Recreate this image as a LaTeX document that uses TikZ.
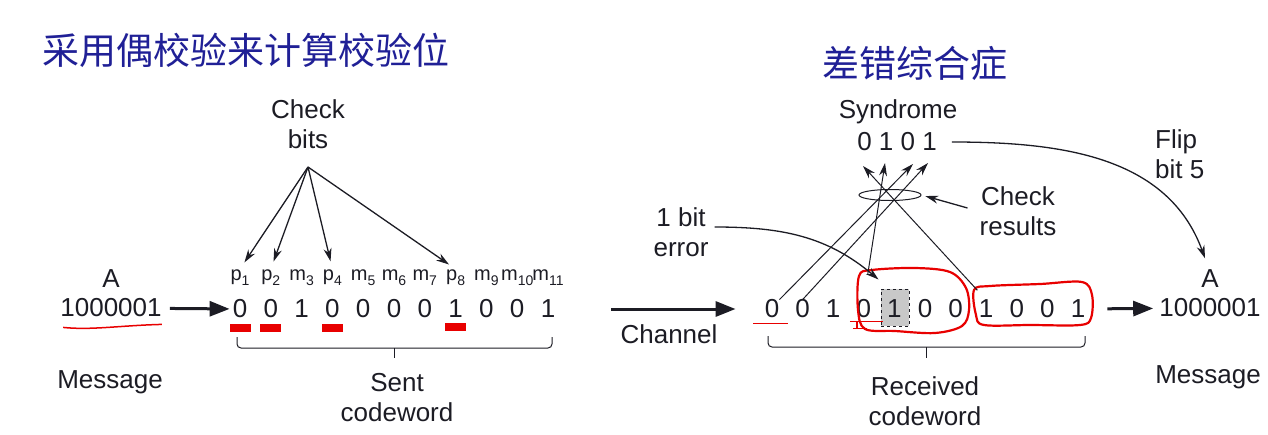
\documentclass[tikz,border=0pt]{standalone}
\usepackage{fontspec}
\setmainfont{Liberation Sans}
\newfontfamily\cjkfont{Noto Sans CJK SC}
\usetikzlibrary{arrows.meta,positioning,shapes.geometric,calc}

\definecolor{titleblue}{RGB}{32,32,150}
\definecolor{markred}{RGB}{232,0,0}
\definecolor{boxgray}{RGB}{200,200,200}
\definecolor{ink}{RGB}{28,28,36}

% subscripted bit label, e.g. p_1
\newcommand{\bitlbl}[2]{#1\raisebox{-5pt}{\fontsize{14}{14}\selectfont #2}}

\tikzset{
  hm/title/.style={font=\cjkfont\fontsize{37}{40}\selectfont, text=titleblue, inner sep=0pt, anchor=west},
  hm/txt/.style={font=\fontsize{26}{30}\selectfont, text=ink, align=center, inner sep=0pt},
  hm/bit/.style={font=\fontsize{26}{30}\selectfont, text=ink, inner sep=0pt},
  hm/lbl/.style={font=\fontsize{20}{22}\selectfont, text=ink, inner sep=0pt, anchor=base},
  hm/redbar/.style={fill=markred, minimum width=21pt, minimum height=8pt, inner sep=0pt},
  hm/flipbox/.style={draw=ink, dashed, fill=boxgray, line width=1pt, minimum width=28pt, minimum height=37pt, inner sep=0pt},
  hm/redline/.style={draw=markred, line width=1.5pt},
  hm/loop/.style={draw=markred, line width=2.2pt}
}

\begin{document}
\begin{tikzpicture}[
  x=1pt, y=1pt,
  node distance=6pt and 10pt,
  big/.style={draw=ink, line width=3pt, -{Triangle[length=20pt,width=15pt]}},
  thin/.style={draw=ink, line width=1.3pt, -{Stealth[length=13pt,width=8pt]}},
  line/.style={draw=ink, line width=1pt}
]
\useasboundingbox (0,0) rectangle (1268,-434);

% --- titles ---
\node[hm/title] (ttl1) at (42,-50) {采用偶校验来计算校验位};
\node[hm/title] (ttl2) at (822,-63) {差错综合症};

% --- message, sender side ---
\node[hm/bit] (msg1) at (111,-308) {1000001};
\node[hm/bit, above=11pt of msg1] (a1) {A};
\node[hm/txt] (msgtxt1) at (110,-382) {Message};
\draw[hm/redline] ($(msg1.south west)+(3,-10)$) .. controls ($(msg1.south)+(-20,-13)$) and ($(msg1.south)+(10,-8)$) .. ($(msg1.south east)+(0,-7)$);

% --- sent codeword ---
\foreach \bitval [count=\i] in {0,0,1,0,0,0,0,1,0,0,1}
  \node[hm/bit] (s\i) at ({240+30.8*(\i-1)},-309) {\bitval};
\foreach \ltr/\idx [count=\i] in {p/1,p/2,m/3,p/4,m/5,m/6,m/7,p/8,m/9,m/10,m/11}
  \node[hm/lbl] (sl\i) at ({240+30.8*(\i-1)},-280) {\bitlbl{\ltr}{\idx}};
\foreach \i in {1,2,4,8}
  \node[hm/redbar, below=5pt of s\i] (rb\i) {};
\draw[big, shorten <=8pt, shorten >=3pt] (msg1) -- (s1);

% check bits
\node[hm/txt] (chk) at (308,-124) {Check\\bits};
\coordinate (chkroot) at (308,-167);
\foreach \i in {1,2,4,8}
  \draw[thin, shorten >=8pt] (chkroot) -- (sl\i.north);

% brace
\draw[line, rounded corners=4pt] (237,-337) -- (237,-348) -- (552,-348) -- (552,-337);
\draw[line] (394,-348) -- (394,-358);
\node[hm/txt] (sent) at (397,-398) {Sent\\codeword};

% --- received codeword ---
\node[hm/flipbox] (flip5) at (895,-307.5) {};
\foreach \bitval [count=\i] in {0,0,1,0,1,0,0,1,0,0,1}
  \node[hm/bit] (r\i) at ({772+30.6*(\i-1)},-309) {\bitval};

% hand-drawn marks
\draw[hm/loop] plot[smooth cycle, tension=0.55] coordinates {
  (859,-276) (872,-270) (915,-268) (950,-272) (966,-288) (969,-310) (962,-326) (935,-333) (895,-331) (865,-329) (858,-310)};
\draw[hm/loop] plot[smooth cycle, tension=0.55] coordinates {
  (974,-290) (990,-286) (1040,-284) (1082,-282) (1092,-295) (1091,-318) (1080,-325) (1030,-325) (984,-325) (976,-315)};
\draw[hm/redline] ($(r1.south)+(-19,-5)$) -- ($(r1.south)+(16,-5)$);
\draw[hm/redline] ($(r4.south)+(-14,-3)$) -- ($(r4.south)+(19,-3)$);
\draw[hm/redline] ($(r4.south)+(-7,-3)$) -- ($(r4.south)+(-7,-10)$)
  ($(r4.south)+(-11,-10)$) -- ($(r4.south)+(3,-10)$);

% brace
\draw[line, rounded corners=4pt] (768,-336) -- (768,-347) -- (1085,-347) -- (1085,-336);
\draw[line] (926,-347) -- (926,-358);
\node[hm/txt] (recv) at (925,-401) {Received\\codeword};

% --- channel ---
\draw[big, shorten <=56pt, shorten >=29pt] (s11) -- (r1);
\node[hm/txt] (chan) at (669,-334) {Channel};

% --- syndrome ---
\node[hm/txt] (synd) at (898,-112) {Syndrome};
\node[hm/txt] (sbits) at (897,-142) {0 1 0 1};
\node[line, ellipse, minimum width=62pt, minimum height=11pt, inner sep=0pt] (ring) at (890,-195) {};
\coordinate (tp1) at (863,-166);
\coordinate (tp2) at (885,-163);
\coordinate (tp3) at (913,-164);
\coordinate (tp4) at (928,-163);
\draw[thin, line width=1pt, shorten <=13pt] (r8.north) -- (tp1);
\draw[thin, line width=1pt, shorten <=25pt] (r4.north) -- (tp2);
\draw[thin, line width=1pt] (r1.north east) -- (tp3);
\draw[thin, line width=1pt] (r2.north) -- (tp4);

\node[hm/txt] (chkres) at (1018,-211) {Check\\results};
\draw[thin, shorten >=4pt] ([xshift=-12pt,yshift=3pt]chkres.west) -- (ring.east);

\node[hm/txt] (err) at (681,-232) {1 bit\\error};
\draw[thin] ([xshift=6pt,yshift=5pt]err.east) to[out=0, in=140] ([xshift=-2pt,yshift=9pt]flip5.north west);

% --- message, receiver side ---
\node[hm/bit] (msg2) at (1210,-308) {1000001};
\node[hm/bit, above=11pt of msg2] (a2) {A};
\node[hm/txt] (msgtxt2) at (1208,-377) {Message};
\draw[big, shorten <=22pt, shorten >=6pt] (r11) -- (msg2);

\node[hm/txt, align=left, anchor=west] (flipnote) at (1155,-154) {Flip\\bit 5};
\draw[thin] ([xshift=15pt]sbits.east) to[out=0, in=110] ([xshift=-5pt,yshift=11pt]a2.north);

\end{tikzpicture}
\end{document}
